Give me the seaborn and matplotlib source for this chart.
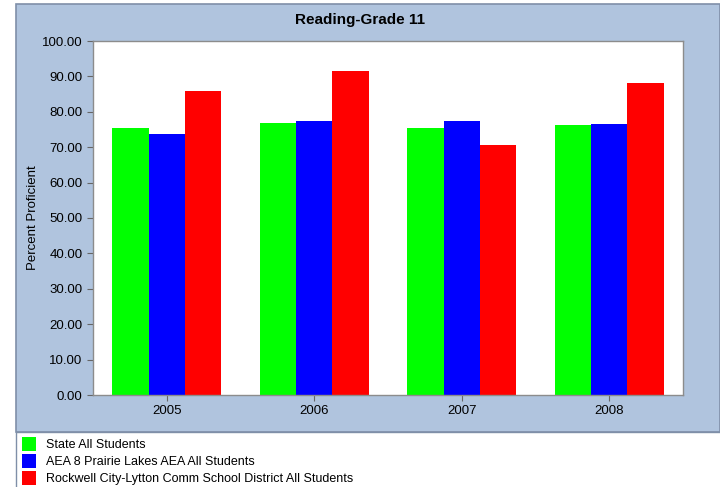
import numpy as np
import matplotlib
matplotlib.use("Agg")
import matplotlib.pyplot as plt
import pandas as pd
import seaborn as sns
from matplotlib.patches import Rectangle

# ================= data =================
years = ["2005", "2006", "2007", "2008"]
groups = ["State All Students",
          "AEA 8 Prairie Lakes AEA All Students",
          "Rockwell City-Lytton Comm School District All Students"]
state = [75.5, 76.9, 75.5, 76.2]
aea = [73.7, 77.3, 77.3, 76.6]
district = [85.8, 91.6, 70.7, 88.2]
colors = ["#00FF00", "#0000FF", "#FF0000"]

df = pd.DataFrame({
    "Year": years * 3,
    "Group": [groups[0]] * 4 + [groups[1]] * 4 + [groups[2]] * 4,
    "Value": state + aea + district,
})

sns.set_style("white")
plt.rcParams["font.family"] = ["Liberation Sans", "DejaVu Sans"]
plt.rcParams["text.color"] = "black"
plt.rcParams["axes.labelcolor"] = "black"
plt.rcParams["xtick.color"] = "black"
plt.rcParams["ytick.color"] = "black"

W, H = 720, 487
fig = plt.figure(figsize=(W / 100, H / 100), dpi=100, facecolor="white")

# blue panel behind the chart
fig.patches.append(Rectangle((16 / W, (H - 432) / H), 1 - 16 / W, (432 - 4) / H,
                             transform=fig.transFigure, facecolor="#B0C4DE",
                             edgecolor="#7F8FA8", linewidth=1.2, zorder=-2))
# white legend box
fig.patches.append(Rectangle((16 / W, -0.01), 1, (H - 432) / H + 0.01,
                             transform=fig.transFigure, facecolor="white",
                             edgecolor="#7F8FA8", linewidth=1.0, zorder=-2))

ax = fig.add_axes([93 / W, (H - 395) / H, 590 / W, 354 / H])
ax.set_facecolor("white")

sns.barplot(data=df, x="Year", y="Value", hue="Group", palette=colors,
            width=0.74, saturation=1, linewidth=0, ax=ax, legend=True)

ax.set_ylim(0, 100)
ax.set_xlim(-0.5, 3.5)
ax.set_yticks(np.arange(0, 101, 10))
ax.set_yticklabels([f"{v:.2f}" for v in np.arange(0, 101, 10)], fontsize=9.5)
ax.tick_params(axis="x", labelsize=9.5)
ax.tick_params(axis="both", length=4, width=0.8, color="#666666", direction="out",
               left=True, bottom=True)
ax.set_xlabel("")
ax.set_ylabel("Percent Proficient", fontsize=9.5, labelpad=2)
for s in ax.spines.values():
    s.set_color("#8C8C8C")
    s.set_linewidth(1.0)

fig.text(0.5, (H - 20) / H, "Reading-Grade 11", ha="center", va="center",
         fontsize=11, fontweight="bold")

leg = ax.legend(loc="upper left", bbox_to_anchor=(20 / W, (H - 435) / H),
                bbox_transform=fig.transFigure, frameon=False, fontsize=9,
                handlelength=1.1, handleheight=1.35, handletextpad=0.8,
                labelspacing=0.22, borderpad=0.15, borderaxespad=0)

fig.savefig("out.png", dpi=100, facecolor="white")
